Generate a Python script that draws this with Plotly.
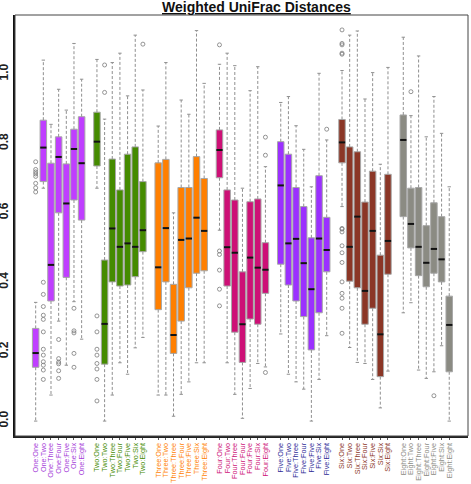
import plotly.graph_objects as go

GROUPS = ["One", "Two", "Three", "Four", "Five", "Six", "Eight"]
PARTNERS = ["One", "Two", "Three", "Four", "Five", "Six", "Eight"]
BOX_COLORS = ["#BF3EFF", "#458B00", "#FF7F00", "#CD1076", "#9B30FF", "#8B3626", "#8B8B83"]
LABEL_COLORS = ["#A43BD8", "#458B00", "#FF7F00", "#CD1076", "#2B2B96", "#8B3626", "#8B8B83"]

LOWER = [0.000, 0.671, 0.075, 0.288, 0.161, 0.344, 0.236,
         0.671, 0.000, 0.075, 0.168, 0.135, 0.211, 0.241,
         0.075, 0.075, 0.014, 0.077, 0.113, 0.168, 0.168,
         0.550, 0.168, 0.077, 0.008, 0.094, 0.166, 0.156,
         0.251, 0.135, 0.113, 0.092, 0.000, 0.120, 0.246,
         0.618, 0.212, 0.169, 0.166, 0.120, 0.038, 0.144,
         0.312, 0.341, 0.147, 0.123, 0.142, 0.217, 0.000]
Q1 = [0.155, 0.690, 0.346, 0.600, 0.414, 0.637, 0.579,
      0.735, 0.164, 0.401, 0.389, 0.392, 0.416, 0.488,
      0.321, 0.401, 0.195, 0.288, 0.384, 0.426, 0.433,
      0.701, 0.389, 0.256, 0.169, 0.294, 0.279, 0.368,
      0.452, 0.392, 0.346, 0.301, 0.205, 0.312, 0.430,
      0.744, 0.403, 0.384, 0.279, 0.325, 0.128, 0.423,
      0.589, 0.499, 0.419, 0.387, 0.426, 0.401, 0.142]
MEDIAN = [0.196, 0.788, 0.450, 0.761, 0.627, 0.784, 0.743,
          0.805, 0.280, 0.555, 0.502, 0.512, 0.502, 0.550,
          0.443, 0.556, 0.248, 0.522, 0.526, 0.586, 0.548,
          0.781, 0.501, 0.485, 0.279, 0.471, 0.442, 0.436,
          0.679, 0.512, 0.525, 0.455, 0.380, 0.526, 0.493,
          0.803, 0.502, 0.589, 0.375, 0.548, 0.250, 0.519,
          0.810, 0.568, 0.502, 0.456, 0.496, 0.466, 0.277]
Q3 = [0.267, 0.867, 0.743, 0.819, 0.741, 0.841, 0.877,
      0.890, 0.464, 0.755, 0.666, 0.769, 0.790, 0.690,
      0.744, 0.754, 0.394, 0.673, 0.673, 0.762, 0.699,
      0.839, 0.666, 0.637, 0.430, 0.632, 0.640, 0.514,
      0.805, 0.769, 0.673, 0.618, 0.528, 0.707, 0.587,
      0.869, 0.790, 0.776, 0.631, 0.720, 0.478, 0.711,
      0.882, 0.671, 0.673, 0.563, 0.629, 0.589, 0.360]
UPPER = [0.342, 1.040, 0.855, 0.956, 0.896, 1.088, 0.985,
         1.042, 0.870, 1.033, 1.060, 0.937, 1.112, 0.954,
         0.850, 1.033, 0.600, 0.925, 0.884, 1.125, 0.973,
         1.028, 1.060, 1.024, 0.671, 0.952, 1.021, 0.733,
         0.918, 0.935, 0.851, 0.783, 0.675, 1.002, 0.810,
         1.010, 1.112, 1.124, 0.928, 1.004, 0.740, 1.019,
         1.106, 0.880, 1.052, 0.819, 0.935, 0.829, 0.675]
OUTLIERS = {
    "One:One": [0.747, 0.725, 0.718, 0.712, 0.705, 0.685, 0.672, 0.660],
    "One:Two": [0.400, 0.365, 0.330, 0.305, 0.293, 0.257, 0.207, 0.190, 0.171, 0.161, 0.147, 0.120],
    "One:Four": [0.235, 0.180, 0.170, 0.165, 0.145, 0.123],
    "One:Six": [0.325, 0.260, 0.254, 0.195, 0.155],
    "Two:One": [0.303, 0.257, 0.207, 0.190, 0.166, 0.150, 0.120, 0.058],
    "Two:Two": [1.026, 0.947],
    "Two:Eight": [1.086],
    "Four:One": [1.084, 0.490, 0.480, 0.435, 0.380, 0.332],
    "Four:Eight": [0.818, 0.766, 0.140],
    "Five:Eight": [0.841],
    "Six:One": [1.127, 1.088, 1.084, 1.060, 1.057, 0.555, 0.553, 0.545, 0.505,
                0.485, 0.457, 0.401, 0.368, 0.354, 0.325, 0.253],
    "Eight:Two": [0.949],
    "Eight:Five": [0.073],
}
Y_TICKS = [0.0, 0.2, 0.4, 0.6, 0.8, 1.0]
Y_TICK_LABELS = ["0.0", "0.2", "0.4", "0.6", "0.8", "1.0"]

fig = go.Figure()
tickvals, ticktext = [], []
ox, oy = [], []
for g, grp in enumerate(GROUPS):
    xs, q1, med, q3 = [], [], [], []
    wx, wy, cx, cy, mx, my = [], [], [], [], [], []
    for k, part in enumerate(PARTNERS):
        i = g * 7 + k
        x = g * 8 + k
        name = f"{grp}:{part}"
        xs.append(x)
        q1.append(Q1[i]); med.append(MEDIAN[i]); q3.append(Q3[i])
        wx += [x, x, None, x, x, None]
        wy += [Q3[i], UPPER[i], None, Q1[i], LOWER[i], None]
        cx += [x - 0.22, x + 0.22, None, x - 0.22, x + 0.22, None]
        cy += [UPPER[i], UPPER[i], None, LOWER[i], LOWER[i], None]
        mx += [x - 0.41, x + 0.41, None]
        my += [MEDIAN[i], MEDIAN[i], None]
        tickvals.append(x)
        ticktext.append(f"<span style='color:{LABEL_COLORS[g]}'>{name}</span>")
        for v in OUTLIERS.get(name, []):
            ox.append(x); oy.append(v)
    fig.add_trace(go.Scatter(x=wx, y=wy, mode="lines", hoverinfo="skip",
                             line=dict(color="#8f8f8f", width=1, dash="3px,2px")))
    fig.add_trace(go.Scatter(x=cx, y=cy, mode="lines", hoverinfo="skip",
                             line=dict(color="#8f8f8f", width=1)))
    fig.add_trace(go.Box(x=xs, q1=q1, median=med, q3=q3, lowerfence=q1, upperfence=q3,
                         fillcolor=BOX_COLORS[g], line=dict(color="#a8a8a8", width=1),
                         width=0.85, boxpoints=False, whiskerwidth=0, hoverinfo="skip"))
    fig.add_trace(go.Scatter(x=mx, y=my, mode="lines", hoverinfo="skip",
                             line=dict(color="#111111", width=2)))

fig.add_trace(go.Scatter(x=ox, y=oy, mode="markers", hoverinfo="skip",
                         marker=dict(symbol="circle-open", size=4, color="#7a7a7a",
                                     line=dict(width=0.8, color="#7a7a7a"))))

fig.update_layout(
    width=471, height=484, showlegend=False,
    margin=dict(l=15, r=3, t=15, b=48),
    paper_bgcolor="white", plot_bgcolor="white",
    font=dict(family="Liberation Sans, Arial, sans-serif"),
    xaxis=dict(range=[-2.70, 56.45], tickvals=tickvals, ticktext=ticktext,
               tickangle=-90, tickfont=dict(size=7.3), ticks="outside", ticklen=2,
               tickcolor="#555", showgrid=False, zeroline=False, showline=True,
               linecolor="#222", linewidth=2, automargin=False, ticklabelstandoff=0),
    yaxis=dict(range=[-0.043, 1.170], tickvals=Y_TICKS, ticktext=Y_TICK_LABELS,
               tickangle=-90, tickfont=dict(size=12, color="#222", weight="bold"),
               ticks="", showgrid=False, zeroline=False, showline=True,
               linecolor="#111", linewidth=2, automargin=False, ticklabelstandoff=0),
    shapes=[dict(type="rect", xref="paper", yref="paper", x0=0, x1=1, y0=0, y1=1,
                 line=dict(color="#444", width=1))],
    annotations=[dict(text="<b><u>Weighted UniFrac Distances</u></b>", xref="paper", yref="paper",
                      x=0.534, y=1.019, xanchor="center", yanchor="middle", showarrow=False,
                      font=dict(size=14, color="#111"))],
)

fig.write_html("out.html", config={"displayModeBar": False, "staticPlot": True},
               post_script="document.body.style.margin='0';document.body.style.overflow='hidden';")
